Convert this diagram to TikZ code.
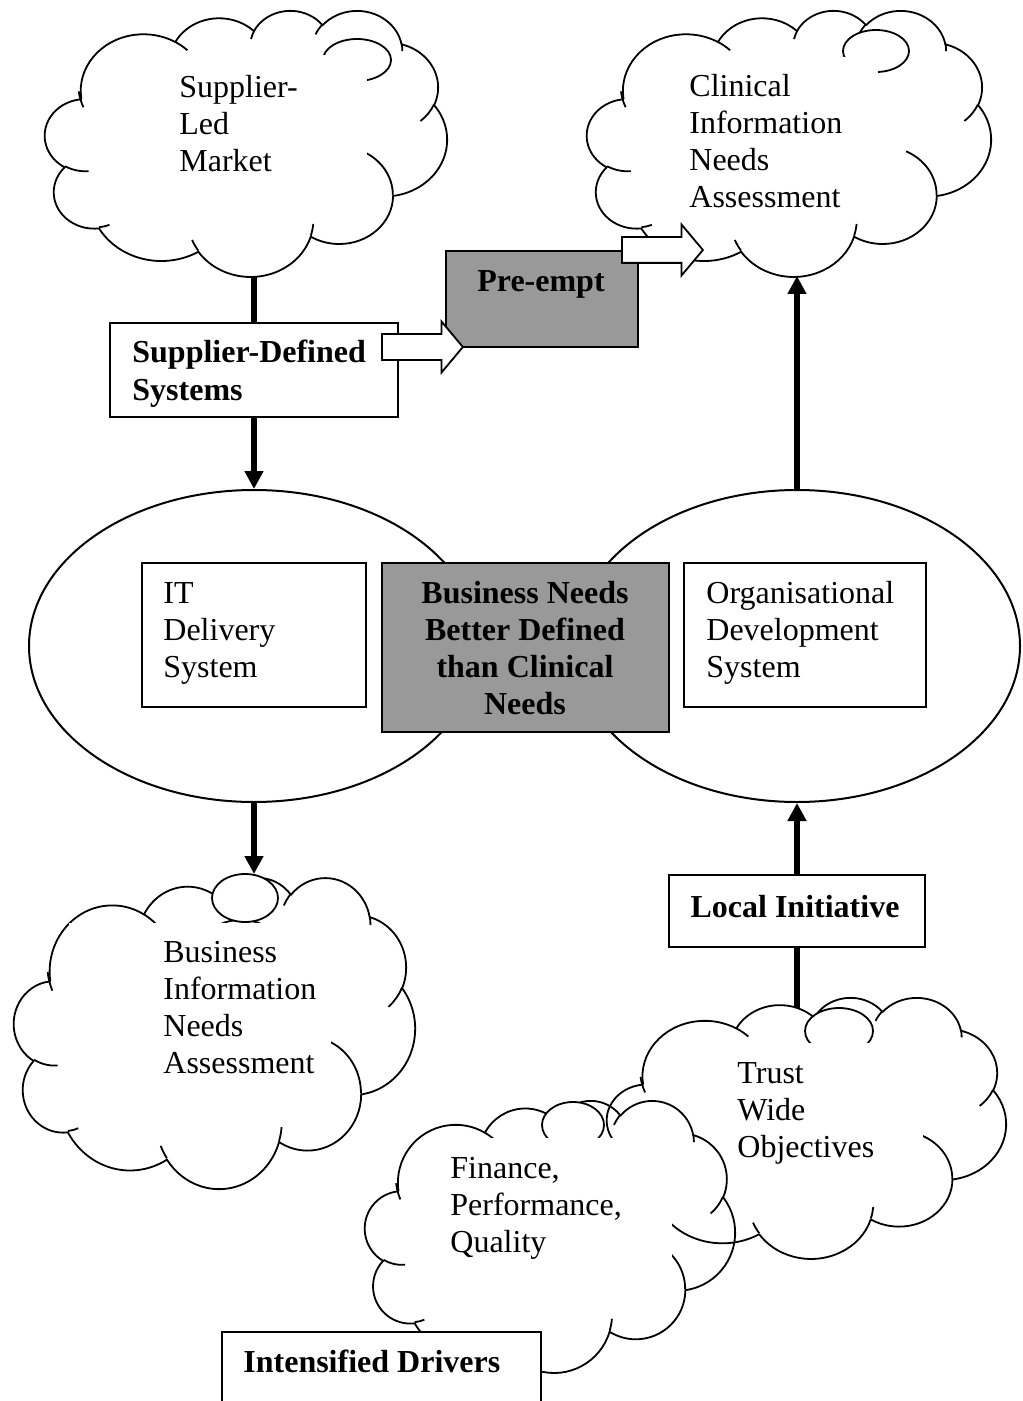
\documentclass[tikz,border=0pt]{standalone}
\usepackage{fontspec}
\setmainfont{Liberation Serif}
\usetikzlibrary{shapes.geometric,shapes.arrows,arrows.meta}
\definecolor{boxgray}{RGB}{153,153,153}

% convert DrawingML (visual) arc angles to parametric angles
\newcommand\cldcalc[5]{%
  \pgfmathsetmacro\cldtmpA{atan2((#2)*sin(#4),(#3)*cos(#4))}%
  \pgfmathsetmacro\cldtmpB{atan2((#2)*sin((#4)+(#5)),(#3)*cos((#4)+(#5)))}%
  \pgfmathsetmacro\cldtmpD{\cldtmpB-\cldtmpA}%
  \pgfmathsetmacro\cldtmpD{(\cldtmpD<0)*360+\cldtmpD}%
  \expandafter\xdef\csname cldS#1\endcsname{\cldtmpA}%
  \expandafter\xdef\csname cldD#1\endcsname{\cldtmpD}%
}
\cldcalc{a}{67.53}{91.90}{-190.4875}{123.7805}
\cldcalc{b}{53.33}{72.67}{-144.1024}{89.9452}
\cldcalc{c}{43.65}{59.45}{-145.8079}{99.7230}
\cldcalc{d}{48.57}{65.95}{-130.9861}{117.2417}
\cldcalc{e}{53.33}{72.73}{-78.7089}{109.0269}
\cldcalc{f}{67.75}{92.20}{-46.2673}{130.2690}
\cldcalc{g}{57.85}{78.67}{0.6250}{114.0333}
\cldcalc{h}{67.52}{92.15}{22.4516}{115.1726}
\cldcalc{i}{77.20}{105.43}{66.2426}{75.7110}
\cldcalc{j}{43.60}{59.18}{-274.9421}{146.7356}
\cldcalc{k}{43.45}{59.45}{-246.8285}{152.5189}
\cldcalc{l}{43.45}{59.45}{86.742}{26.4295}
\cldcalc{m}{43.60}{59.18}{73.6105}{11.4475}
\cldcalc{n}{67.52}{92.15}{137.6242}{14.0811}
\cldcalc{o}{67.52}{92.15}{6.4533}{15.9984}
\cldcalc{p}{57.85}{78.67}{-70.2924}{70.9174}
\cldcalc{q}{53.33}{72.73}{30.3180}{27.7515}
\cldcalc{r}{48.57}{65.95}{-13.7443}{14.8589}
\cldcalc{s}{48.57}{65.95}{-149.1815}{18.1954}
\cldcalc{t}{43.65}{59.45}{-163.4943}{17.6864}
\cldcalc{u}{67.53}{91.90}{-66.7070}{12.3194}
\cldcalc{v}{67.53}{91.90}{150.0}{21.3748}

% cloud outline in a 432 x 432 box placed at (x0,y0) with size w x h (pixels)
\newcommand\cloudbody[4]{%
  \pgfmathsetmacro\cldxu{(#3)/864}\pgfmathsetmacro\cldyu{(#4)/864}%
  \begin{scope}[shift={(#1,#2)},x=\cldxu pt,y=-\cldyu pt]
    \draw[cloudline] (39.00,143.70)
      arc[x radius=67.53,y radius=91.90,start angle=\cldSa,delta angle=\cldDa]
      arc[x radius=53.33,y radius=72.67,start angle=\cldSb,delta angle=\cldDb]
      arc[x radius=43.65,y radius=59.45,start angle=\cldSc,delta angle=\cldDc]
      arc[x radius=48.57,y radius=65.95,start angle=\cldSd,delta angle=\cldDd]
      arc[x radius=53.33,y radius=72.73,start angle=\cldSe,delta angle=\cldDe]
      arc[x radius=67.75,y radius=92.20,start angle=\cldSf,delta angle=\cldDf]
      arc[x radius=57.85,y radius=78.67,start angle=\cldSg,delta angle=\cldDg]
      arc[x radius=67.52,y radius=92.15,start angle=\cldSh,delta angle=\cldDh]
      arc[x radius=77.20,y radius=105.43,start angle=\cldSi,delta angle=\cldDi]
      arc[x radius=43.60,y radius=59.18,start angle=\cldSj,delta angle=\cldDj]
      arc[x radius=43.45,y radius=59.45,start angle=\cldSk,delta angle=\cldDk]
      -- cycle;
    \draw[cloudline]
      (46.93,261.77) arc[x radius=43.45,y radius=59.45,start angle=\cldSl,delta angle=\cldDl]
      (69.28,348.99) arc[x radius=43.60,y radius=59.18,start angle=\cldSm,delta angle=\cldDm]
      (164.78,390.90) arc[x radius=67.52,y radius=92.15,start angle=\cldSn,delta angle=\cldDn]
      (288.27,347.51) arc[x radius=67.52,y radius=92.15,start angle=\cldSo,delta angle=\cldDo]
      (341.29,229.54) arc[x radius=57.85,y radius=78.67,start angle=\cldSp,delta angle=\cldDp]
      (417.98,153.54) arc[x radius=53.33,y radius=72.73,start angle=\cldSq,delta angle=\cldDq]
      (383.24,54.26) arc[x radius=48.57,y radius=65.95,start angle=\cldSr,delta angle=\cldDr]
      (290.78,39.52) arc[x radius=48.57,y radius=65.95,start angle=\cldSs,delta angle=\cldDs]
      (221.41,47.20) arc[x radius=43.65,y radius=59.45,start angle=\cldSt,delta angle=\cldDt]
      (140.00,51.92) arc[x radius=67.53,y radius=91.90,start angle=\cldSu,delta angle=\cldDu]
      (41.27,157.89) arc[x radius=67.53,y radius=91.90,start angle=\cldSv,delta angle=\cldDv];
  \end{scope}}

\begin{document}
\begin{tikzpicture}[x=0.5pt,y=-0.5pt,
  cloudline/.style={line width=0.9pt,line join=round},
  bubble/.style={draw,line width=0.9pt,fill=white},
  nf/.style={font=\fontsize{16}{18.5}\selectfont,inner sep=0pt},
  bf/.style={font=\fontsize{16}{18.5}\selectfont\bfseries,inner sep=0pt},
  thinbox/.style={draw,line width=0.9pt,rectangle,inner sep=0pt,fill=white},
  graybox/.style={thinbox,fill=boxgray},
  oval/.style={draw,ellipse,line width=1pt,inner sep=0pt,fill=white},
  connline/.style={line width=3.2pt},
  connarrow/.style={line width=3.2pt,-{Triangle[length=9pt,width=9pt]}},
  blockarrow/.style={single arrow,draw,fill=white,line width=0.9pt,
    single arrow head extend=6.25pt,single arrow tip angle=100,
    single arrow head indent=0pt,minimum height=40.5pt,
    inner xsep=0pt,inner ysep=6pt,anchor=tail}]
\useasboundingbox (0,0) rectangle (1022,1401);
\clip (0,0) rectangle (1022,1401);

% ---- clouds ----
\cloudbody{45}{10}{402}{266}
\draw[bubble] (357,60) ellipse [x radius=34,y radius=21];
\fill[white] (100,55) rectangle (367,223);

\cloudbody{587}{10}{404}{266}
\draw[bubble] (876,51) ellipse [x radius=33,y radius=21];
\fill[white] (643,57) rectangle (878,223);

\cloudbody{14}{877}{401}{311}
\draw[bubble] (241,935) ellipse [x radius=30,y radius=15];
\draw[bubble] (245,898) ellipse [x radius=33,y radius=24];
\fill[white] (69,923) rectangle (331,1127);

\cloudbody{607}{997}{399}{261}
\draw[bubble] (839,1031) ellipse [x radius=34,y radius=23];
\fill[white] (736,1043) rectangle (923,1200);

\cloudbody{365}{1100}{370}{272}
\draw[bubble] (573,1125) ellipse [x radius=31,y radius=23];
\fill[white] (470,1138) rectangle (672,1318);

% ---- ellipses ----
\node[oval,minimum width=225pt,minimum height=156pt] (le) at (254,646) {};
\node[oval,minimum width=223pt,minimum height=156pt] (re) at (797,646) {};

% ---- boxes ----
\node[thinbox,minimum width=144pt,minimum height=47pt] (sds) at (254,370) {};
\node[graybox,minimum width=96pt,minimum height=48pt] (pe) at (542,299) {};
\node[thinbox,minimum width=112pt,minimum height=72pt] (itb) at (254,635) {};
\node[graybox,minimum width=143.5pt,minimum height=84.5pt] (bnb) at (525.5,647.5) {};
\node[thinbox,minimum width=121pt,minimum height=72pt] (org) at (805,635) {};
\node[thinbox,minimum width=128pt,minimum height=36pt] (li) at (797,911) {};
\node[thinbox,minimum width=159.5pt,minimum height=44pt] (idb) at (381.5,1376) {};

% ---- texts (anchor = baseline of the last line) ----
\node[nf,anchor=base west,align=left] (t1) at (179,172) {Supplier-\\Led\\Market};
\node[nf,anchor=base west,align=left] (t2) at (689,208) {Clinical\\Information\\Needs\\Assessment};
\node[nf,anchor=base west,align=left] (t3) at (163,1073) {Business\\Information\\Needs\\Assessment};
\node[nf,anchor=base west,align=left] (t4) at (737,1157) {Trust\\Wide\\Objectives};
\node[nf,anchor=base west,align=left] (t5) at (450,1252) {Finance,\\Performance,\\Quality};
\node[nf,anchor=base west,align=left] (t6) at (163,677) {IT\\Delivery\\System};
\node[nf,anchor=base west,align=left] (t7) at (706,677) {Organisational\\Development\\System};
\node[bf,anchor=base,align=center] (t8) at (525,714) {Business Needs\\Better Defined\\than Clinical\\Needs};
\node[bf,anchor=base west,align=left] (t9) at (132,400) {Supplier-Defined\\Systems};
\node[bf,anchor=base] (t10) at (541,292) {Pre-empt};
\node[bf,anchor=base] (t11) at (795,917) {Local Initiative};
\node[bf,anchor=base west] (t12) at (243,1372) {Intensified Drivers};

% ---- block arrows ----
\node[blockarrow] (arrB) at (381,347) {};
\node[blockarrow] (arrA) at (621,250) {};

% ---- connectors ----
\coordinate (c1b) at (254,276);
\coordinate (c2b) at (797,276);
\coordinate (c3t) at (254,874);
\coordinate (c4t) at (797,1008);
\draw[connline] (c1b) -- (sds.north);
\draw[connarrow] (sds.south) -- (le.north);
\draw[connarrow] (le.south) -- (c3t);
\draw[connarrow] (re.north) -- (c2b);
\draw[connarrow] (li.north) -- (re.south);
\draw[connline] (c4t) -- (li.south);
\end{tikzpicture}
\end{document}
